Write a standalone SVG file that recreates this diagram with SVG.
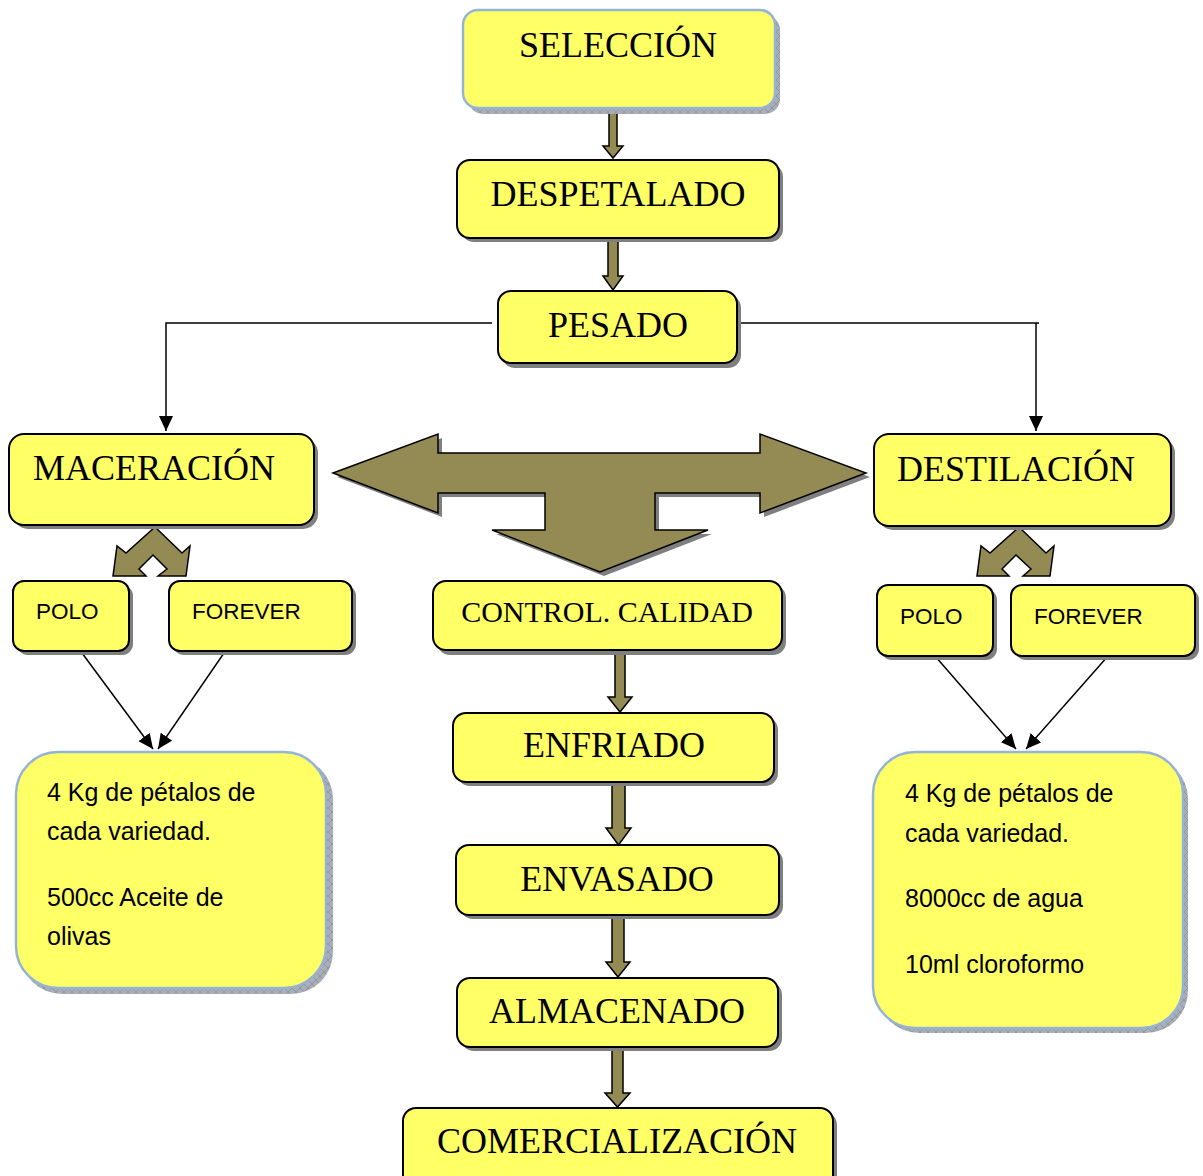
<svg xmlns="http://www.w3.org/2000/svg" width="1203" height="1176" viewBox="0 0 1203 1176">
<style>
.box{fill:#ffff66;stroke:#000;stroke-width:2}
.bbox{fill:#ffff66;stroke:#95b3d7;stroke-width:2.5}
.sh{fill:#7f7f7f}
.hsh{fill:url(#hatch)}
.t{font-family:"Liberation Serif","Times New Roman",serif;font-size:36px;fill:#000}
.tc{font-family:"Liberation Serif","Times New Roman",serif;font-size:30px;fill:#000}
.s{font-family:"Liberation Sans",Arial,sans-serif;font-size:22.5px;fill:#000}
.i{font-family:"Liberation Sans",Arial,sans-serif;font-size:25px;fill:#000}
.blk{fill:#948a54;stroke:#000;stroke-width:1.5;stroke-linejoin:miter}
.ln{fill:none;stroke:#000;stroke-width:1.5}
</style>
<defs>
<pattern id="hatch" width="8" height="8" patternUnits="userSpaceOnUse">
<rect width="8" height="8" fill="#a9aeb8"/>
<path d="M0,0 L8,8 M8,0 L0,8" stroke="#8a8f99" stroke-width="0.8"/>
</pattern>
<marker id="ah" markerWidth="16" markerHeight="14" refX="15" refY="7" orient="auto" markerUnits="userSpaceOnUse">
<path d="M0,0 L15,7 L0,14 z" fill="#000"/>
</marker>
</defs>

<g id="connectors">
<polyline class="ln" points="492,323 166,323 166,431" marker-end="url(#ah)"/>
<polyline class="ln" points="740,323 1039,323"/>
<line class="ln" x1="1036" y1="323" x2="1036" y2="431" marker-end="url(#ah)"/>
<line class="ln" x1="82" y1="653" x2="153" y2="749" marker-end="url(#ah)"/>
<line class="ln" x1="224" y1="653" x2="158" y2="749" marker-end="url(#ah)"/>
<line class="ln" x1="935" y1="656" x2="1016" y2="749" marker-end="url(#ah)"/>
<line class="ln" x1="1108" y1="656" x2="1026" y2="749" marker-end="url(#ah)"/>
<polygon class="blk" points="609,110 617,110 617,146 623,146 613,158 603,146 609,146"/>
<polygon class="blk" points="608,238 618,238 618,276 623,276 613,290 603,276 608,276"/>
<polygon class="blk" points="615,650 625,650 625,697 632,697 620,712 608,697 615,697"/>
<polygon class="blk" points="612,782 625,782 625,828 631,828 618.5,845 606,828 612,828"/>
<polygon class="blk" points="612,915 624,915 624,962 630,962 618,977 606,962 612,962"/>
<polygon class="blk" points="612,1047 623,1047 623,1093 630,1093 617.5,1107 605,1093 612,1093"/>
<g id="tri-arrow">
<polygon class="sh" transform="translate(4,4)" points="333,473 438,434 438,453 760,453 760,434 866,473 760,513 760,493 655,493 655,530 708,530 600,572 492,530 545,530 545,493 438,493 438,513"/>
<polygon class="blk" points="333,473 438,434 438,453 760,453 760,434 866,473 760,513 760,493 655,493 655,530 708,530 600,572 492,530 545,530 545,493 438,493 438,513"/>
</g>
<polygon class="blk" points="155,527 182,553 190,546 186,576 158,576 167,569 153,555 139,569 146,576 113,576 117,546 126,553"/>
<polygon class="blk" points="1019,527 1046,553 1054,546 1050,576 1023,576 1031,569 1016,555 1002,569 1009,576 977,576 981,546 990,553"/>
</g>

<g id="seleccion">
<rect class="hsh" x="468" y="15" width="312" height="99" rx="15"/>
<rect class="bbox" x="463" y="10" width="312" height="98" rx="15"/>
<text class="t" x="618" y="57" text-anchor="middle">SELECCIÓN</text>
</g>
<g id="despetalado">
<rect class="sh" x="461" y="164" width="322" height="78" rx="13"/>
<rect class="box" x="457" y="160" width="322" height="78" rx="13"/>
<text class="t" x="618" y="206" text-anchor="middle">DESPETALADO</text>
</g>
<g id="pesado">
<rect class="sh" x="502" y="295" width="239" height="73" rx="13"/>
<rect class="box" x="498" y="291" width="239" height="72" rx="13"/>
<text class="t" x="618" y="337" text-anchor="middle">PESADO</text>
</g>
<g id="maceracion">
<rect class="sh" x="13" y="438" width="305" height="91" rx="15"/>
<rect class="box" x="9" y="434" width="305" height="91" rx="15"/>
<text class="t" x="33" y="480">MACERACIÓN</text>
</g>
<g id="destilacion">
<rect class="sh" x="878" y="438" width="297" height="92" rx="15"/>
<rect class="box" x="874" y="434" width="297" height="92" rx="15"/>
<text class="t" x="897" y="481">DESTILACIÓN</text>
</g>
<g id="polo-left">
<rect class="sh" x="17" y="585" width="116" height="70" rx="11"/>
<rect class="box" x="13" y="581" width="116" height="70" rx="11"/>
<text class="s" x="36" y="619">POLO</text>
</g>
<g id="forever-left">
<rect class="sh" x="173" y="585" width="183" height="70" rx="11"/>
<rect class="box" x="169" y="581" width="183" height="70" rx="11"/>
<text class="s" x="192" y="619">FOREVER</text>
</g>
<g id="polo-right">
<rect class="sh" x="881" y="589" width="116" height="71" rx="11"/>
<rect class="box" x="877" y="585" width="116" height="71" rx="11"/>
<text class="s" x="900" y="624">POLO</text>
</g>
<g id="forever-right">
<rect class="sh" x="1015" y="589" width="184" height="71" rx="11"/>
<rect class="box" x="1011" y="585" width="184" height="71" rx="11"/>
<text class="s" x="1034" y="624">FOREVER</text>
</g>
<g id="info-left">
<rect class="hsh" x="20" y="757" width="313" height="237" rx="42"/>
<rect class="bbox" x="16" y="752" width="310" height="236" rx="42"/>
<text class="i" x="47" y="801">4 Kg de pétalos de</text>
<text class="i" x="47" y="840">cada variedad.</text>
<text class="i" x="47" y="906">500cc Aceite de</text>
<text class="i" x="47" y="945">olivas</text>
</g>
<g id="info-right">
<rect class="hsh" x="877" y="757" width="311" height="276" rx="42"/>
<rect class="bbox" x="873" y="752" width="310" height="276" rx="42"/>
<text class="i" x="905" y="802">4 Kg de pétalos de</text>
<text class="i" x="905" y="842">cada variedad.</text>
<text class="i" x="905" y="907">8000cc de agua</text>
<text class="i" x="905" y="973">10ml cloroformo</text>
</g>
<g id="control-calidad">
<rect class="sh" x="437" y="585" width="349" height="70" rx="13"/>
<rect class="box" x="433" y="581" width="349" height="69" rx="13"/>
<text class="tc" x="607" y="622" text-anchor="middle">CONTROL. CALIDAD</text>
</g>
<g id="enfriado">
<rect class="sh" x="457" y="717" width="321" height="69" rx="13"/>
<rect class="box" x="453" y="713" width="321" height="69" rx="13"/>
<text class="t" x="614" y="757" text-anchor="middle">ENFRIADO</text>
</g>
<g id="envasado">
<rect class="sh" x="460" y="849" width="323" height="70" rx="13"/>
<rect class="box" x="456" y="845" width="323" height="70" rx="13"/>
<text class="t" x="617" y="891" text-anchor="middle">ENVASADO</text>
</g>
<g id="almacenado">
<rect class="sh" x="461" y="982" width="321" height="69" rx="13"/>
<rect class="box" x="457" y="978" width="321" height="69" rx="13"/>
<text class="t" x="617" y="1023" text-anchor="middle">ALMACENADO</text>
</g>
<g id="comercializacion">
<rect class="sh" x="407" y="1112" width="430" height="80" rx="13"/>
<rect class="box" x="403" y="1108" width="430" height="80" rx="13"/>
<text class="t" x="617" y="1153" text-anchor="middle">COMERCIALIZACIÓN</text>
</g>
</svg>
